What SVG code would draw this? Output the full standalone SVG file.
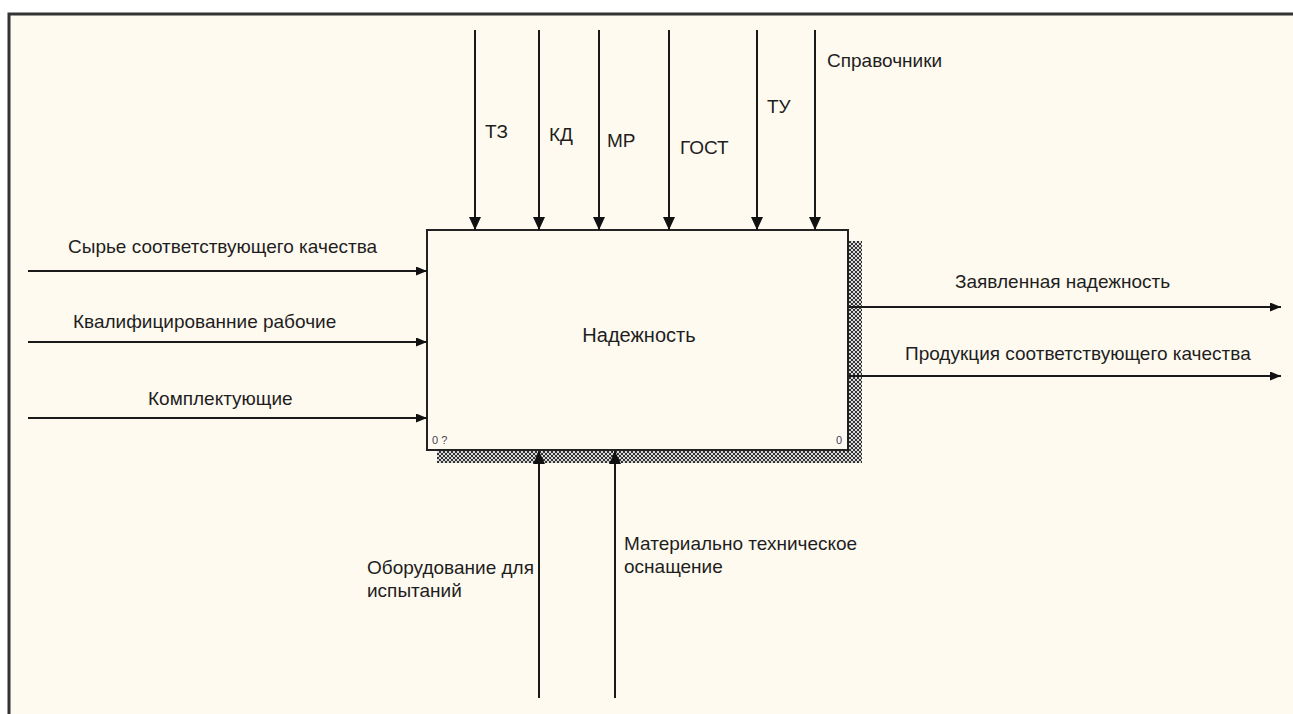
<svg xmlns="http://www.w3.org/2000/svg" width="1293" height="714" viewBox="0 0 1293 714">
<style>
.lbl{font-family:"Liberation Sans",Arial,sans-serif;font-size:19px;fill:#1e1e1e}
.title{font-family:"Liberation Sans",Arial,sans-serif;font-size:20px;fill:#1e1e1e}
.small{font-family:"Liberation Sans",Arial,sans-serif;font-size:11px;fill:#445}
.ln{stroke:#1a1a1a;stroke-width:2;fill:none}
</style>
<defs>
<pattern id="hatch" width="4" height="4" patternUnits="userSpaceOnUse">
<rect width="4" height="4" fill="#d8d8d8"/>
<path d="M0,0 L4,4 M4,0 L0,4" stroke="#333" stroke-width="1"/>
</pattern>
<marker id="ah" viewBox="0 0 13 12" refX="13" refY="6" markerWidth="13" markerHeight="12" markerUnits="userSpaceOnUse" orient="auto">
<path d="M0,0 L13,6 L0,12 Z" fill="#111"/>
</marker>
<marker id="ahs" viewBox="0 0 11 9" refX="11" refY="4.5" markerWidth="11" markerHeight="9" markerUnits="userSpaceOnUse" orient="auto">
<path d="M0,0 L11,4.5 L0,9 Z" fill="#111"/>
</marker>
</defs>
<rect x="0" y="0" width="1293" height="714" fill="#ffffff"/>
<rect x="9" y="14" width="1300" height="720" fill="#fffaf0" stroke="#333" stroke-width="3"/>
<g id="node-main">
<rect x="437" y="451" width="425" height="12" fill="url(#hatch)"/>
<rect x="849" y="241" width="13" height="222" fill="url(#hatch)"/>
<rect x="427" y="230" width="421" height="220" fill="#fffaf0" stroke="#222" stroke-width="2"/>
<text class="title" x="639" y="342" text-anchor="middle">Надежность</text>
<text class="small" x="432" y="444">0 ?</text>
<text class="small" x="836" y="444">0</text>
</g>
<g id="connectors">
<line class="ln" x1="475" y1="30" x2="475" y2="230" marker-end="url(#ah)"/>
<line class="ln" x1="539" y1="30" x2="539" y2="230" marker-end="url(#ah)"/>
<line class="ln" x1="599" y1="30" x2="599" y2="230" marker-end="url(#ah)"/>
<line class="ln" x1="669" y1="30" x2="669" y2="230" marker-end="url(#ah)"/>
<line class="ln" x1="757" y1="30" x2="757" y2="230" marker-end="url(#ah)"/>
<line class="ln" x1="815" y1="30" x2="815" y2="230" marker-end="url(#ah)"/>
<line class="ln" x1="28" y1="271" x2="427" y2="271" marker-end="url(#ahs)"/>
<line class="ln" x1="28" y1="342" x2="427" y2="342" marker-end="url(#ahs)"/>
<line class="ln" x1="28" y1="418" x2="427" y2="418" marker-end="url(#ahs)"/>
<line class="ln" x1="849" y1="307" x2="1281" y2="307" marker-end="url(#ahs)"/>
<line class="ln" x1="849" y1="376" x2="1281" y2="376" marker-end="url(#ahs)"/>
<line class="ln" x1="539" y1="698" x2="539" y2="451" marker-end="url(#ah)"/>
<line class="ln" x1="615" y1="698" x2="615" y2="451" marker-end="url(#ah)"/>
</g>
<g id="labels">
<text class="lbl" x="485" y="138">ТЗ</text>
<text class="lbl" x="549" y="141">КД</text>
<text class="lbl" x="607" y="147">МР</text>
<text class="lbl" x="680" y="154">ГОСТ</text>
<text class="lbl" x="767" y="113">ТУ</text>
<text class="lbl" x="827" y="67">Справочники</text>
<text class="lbl" x="68" y="253">Сырье соответствующего качества</text>
<text class="lbl" x="73" y="328">Квалифицированние рабочие</text>
<text class="lbl" x="148" y="405">Комплектующие</text>
<text class="lbl" x="955" y="288">Заявленная надежность</text>
<text class="lbl" x="905" y="360">Продукция соответствующего качества</text>
<text class="lbl" x="367" y="574">Оборудование для</text>
<text class="lbl" x="367" y="597">испытаний</text>
<text class="lbl" x="624" y="550">Материально техническое</text>
<text class="lbl" x="624" y="573">оснащение</text>
</g>
</svg>
